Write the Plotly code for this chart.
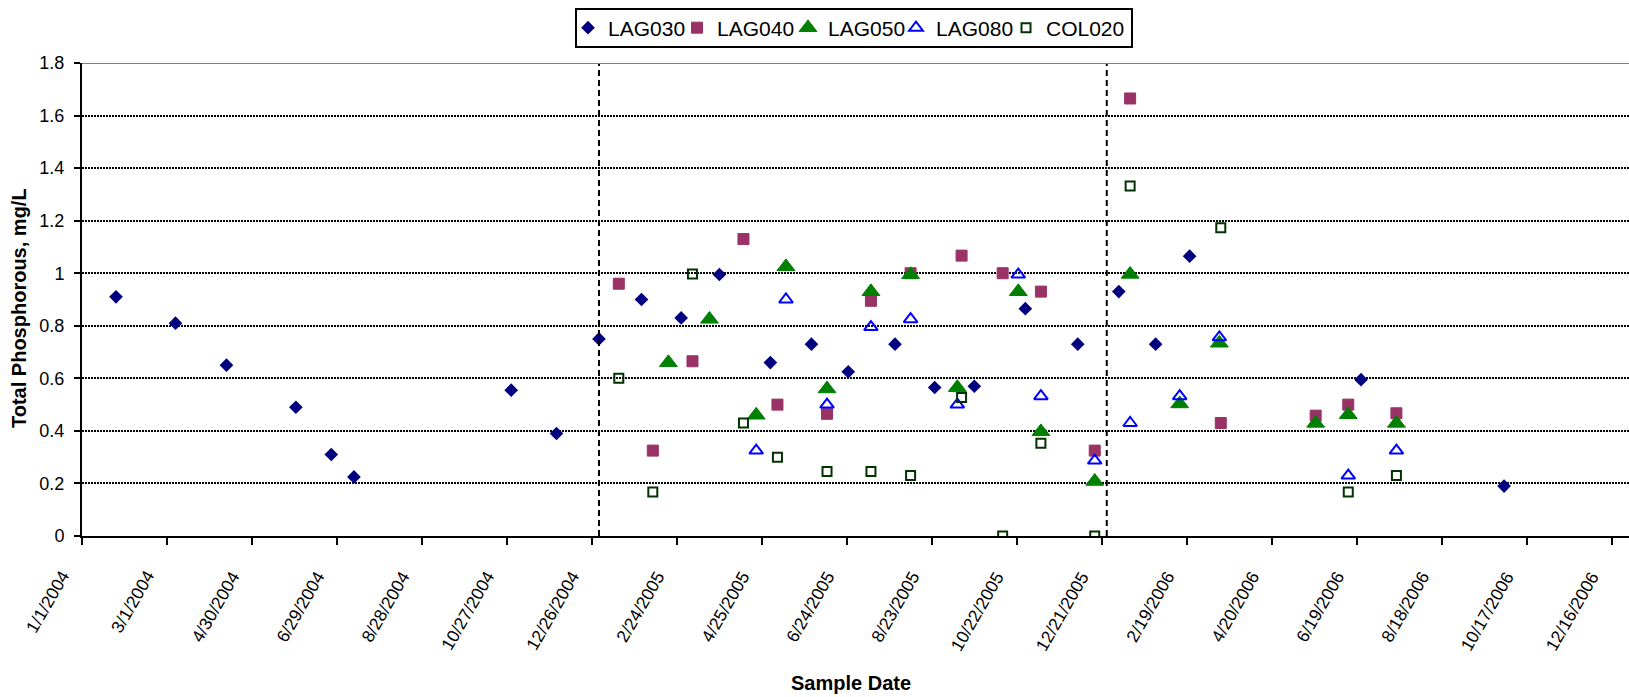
import plotly.graph_objects as go
import pandas as pd

# ---------------- data ----------------
lag030_dates = ["2004-01-25", "2004-03-07", "2004-04-12", "2004-05-31", "2004-06-25",
                "2004-07-11", "2004-10-30", "2004-12-01", "2004-12-31", "2005-01-30",
                "2005-02-27", "2005-03-26", "2005-05-01", "2005-05-30", "2005-06-25",
                "2005-07-28", "2005-08-25", "2005-09-22", "2005-10-28", "2005-12-04",
                "2006-01-02", "2006-01-28", "2006-02-21", "2006-06-22", "2006-10-01"]
lag030_vals = [0.91, 0.81, 0.65, 0.49, 0.31, 0.225, 0.555, 0.39, 0.75, 0.90,
               0.83, 0.995, 0.66, 0.73, 0.625, 0.73, 0.565, 0.57, 0.865, 0.73,
               0.93, 0.73, 1.065, 0.595, 0.19]

lag040_dates = ["2005-01-14", "2005-02-07", "2005-03-07", "2005-04-12", "2005-05-06",
                "2005-06-10", "2005-07-11", "2005-08-08", "2005-09-13", "2005-10-12",
                "2005-11-08", "2005-12-16", "2006-01-10", "2006-03-15", "2006-05-21",
                "2006-06-13", "2006-07-17"]
lag040_vals = [0.96, 0.325, 0.665, 1.13, 0.50, 0.465, 0.895, 1.0, 1.067, 1.0,
               0.93, 0.325, 1.665, 0.43, 0.458, 0.50, 0.467]

lag050_dates = ["2005-02-18", "2005-03-19", "2005-04-21", "2005-05-12", "2005-06-10",
                "2005-07-11", "2005-08-08", "2005-09-10", "2005-10-23", "2005-11-08",
                "2005-12-16", "2006-01-10", "2006-02-14", "2006-03-14", "2006-05-21",
                "2006-06-13", "2006-07-17"]
lag050_vals = [0.66, 0.825, 0.46, 1.025, 0.56, 0.93, 0.995, 0.565, 0.93, 0.397,
               0.208, 0.996, 0.503, 0.734, 0.429, 0.462, 0.429]

lag080_dates = ["2005-04-21", "2005-05-12", "2005-06-10", "2005-07-11", "2005-08-08",
                "2005-09-10", "2005-10-23", "2005-11-08", "2005-12-16", "2006-01-10",
                "2006-02-14", "2006-03-14", "2006-06-13", "2006-07-17"]
lag080_vals = [0.325, 0.90, 0.50, 0.795, 0.825, 0.50, 0.995, 0.532, 0.287, 0.43,
               0.532, 0.756, 0.23, 0.325]

col020_dates = ["2005-01-14", "2005-02-07", "2005-03-07", "2005-04-12", "2005-05-06",
                "2005-06-10", "2005-07-11", "2005-08-08", "2005-09-13", "2005-10-12",
                "2005-11-08", "2005-12-16", "2006-01-10", "2006-03-15", "2006-06-13",
                "2006-07-17"]
col020_vals = [0.60, 0.167, 0.997, 0.43, 0.30, 0.245, 0.245, 0.23, 0.527, 0.0,
               0.353, 0.0, 1.332, 1.173, 0.167, 0.23]

x_tick_labels = ["1/1/2004", "3/1/2004", "4/30/2004", "6/29/2004", "8/28/2004",
                 "10/27/2004", "12/26/2004", "2/24/2005", "4/25/2005", "6/24/2005",
                 "8/23/2005", "10/22/2005", "12/21/2005", "2/19/2006", "4/20/2006",
                 "6/19/2006", "8/18/2006", "10/17/2006", "12/16/2006"]
y_tick_vals = [0, 0.2, 0.4, 0.6, 0.8, 1.0, 1.2, 1.4, 1.6, 1.8]
y_tick_text = ["0", "0.2", "0.4", "0.6", "0.8", "1", "1.2", "1.4", "1.6", "1.8"]

divider_dates = ["2004-12-31", "2005-12-24 12:00"]
x_range = ["2004-01-01", "2006-12-28 05:00"]

FONT = "Arial, Liberation Sans, sans-serif"

# layout geometry (pixels)
W, H = 1629, 697
L, R, T, B = 82, 0, 63, 161
PW, PH = W - L - R, H - T - B


def px_x(px):
    return (px - L) / PW


def px_y(py):
    return (H - B - py) / PH


x_tick_vals = [pd.to_datetime(t, format="%m/%d/%Y").strftime("%Y-%m-%d") for t in x_tick_labels]

series = [
    ("LAG030", lag030_dates, lag030_vals,
     dict(symbol="diamond", size=10.5, color="#000080", line=dict(width=0))),
    ("LAG040", lag040_dates, lag040_vals,
     dict(symbol="square", size=11, color="#993366", line=dict(width=1, color="#993366"))),
    ("LAG050", lag050_dates, lag050_vals,
     dict(symbol="triangle-up", size=15.5, color="#008000", line=dict(width=1, color="#008000"))),
    ("LAG080", lag080_dates, lag080_vals,
     dict(symbol="triangle-up-open", size=12, color="#0000FF", line=dict(width=2, color="#0000FF"))),
    ("COL020", col020_dates, col020_vals,
     dict(symbol="square-open", size=9, color="#003300", line=dict(width=2, color="#003300"))),
]
# legend swatch centres (px) for the single legend row
legend_marker_px = [590, 699, 810, 918, 1028]

fig = go.Figure()
legend_layouts = {}
for i, (name, xs, ys, mk) in enumerate(series):
    key = "legend" if i == 0 else f"legend{i + 1}"
    fig.add_trace(go.Scatter(x=xs, y=ys, mode="markers", name=name, marker=mk,
                             legend=key))
    legend_layouts[key] = dict(
        orientation="h", x=px_x(legend_marker_px[i] - 22), xanchor="left",
        y=px_y(7.5), yanchor="top", bgcolor="rgba(0,0,0,0)", borderwidth=0,
        font=dict(size=21, family=FONT, color="black"), itemwidth=30)

shapes = [dict(type="rect", xref="paper", yref="paper",
               x0=px_x(576), x1=px_x(1132), y0=px_y(47), y1=px_y(9),
               line=dict(color="black", width=2), fillcolor="white", layer="below")]
for d in divider_dates:
    shapes.append(dict(type="line", xref="x", yref="y", x0=d, x1=d, y0=0, y1=1.8,
                       line=dict(color="black", width=2, dash="6px,4px"), layer="above"))
shapes.append(dict(type="line", xref="paper", yref="y", x0=0, x1=1, y0=1.8, y1=1.8,
                   line=dict(color="#808080", width=2), layer="above"))

annotations = [
    dict(text="<b>Total Phosphorous, mg/L</b>", xref="paper", yref="paper",
         x=px_x(18.5), y=px_y(308.5), textangle=-90,
         showarrow=False, xanchor="center", yanchor="middle",
         font=dict(size=20, family=FONT, color="black")),
    dict(text="<b>Sample Date</b>", xref="paper", yref="paper",
         x=px_x(851), y=px_y(683),
         showarrow=False, xanchor="center", yanchor="middle",
         font=dict(size=20, family=FONT, color="black")),
]
for tv, tl in zip(x_tick_vals, x_tick_labels):
    annotations.append(dict(text=tl, xref="x", yref="y", x=tv, y=0,
                            showarrow=False, xanchor="right", yanchor="top",
                            textangle=-60, xshift=-6, yshift=-29,
                            font=dict(size=17.5, family=FONT, color="black")))

fig.update_layout(
    width=W, height=H,
    margin=dict(l=L, r=R, t=T, b=B, pad=0),
    paper_bgcolor="white", plot_bgcolor="white",
    font=dict(family=FONT, color="black", size=18),
    showlegend=True,
    shapes=shapes,
    annotations=annotations,
    **legend_layouts,
)

fig.update_xaxes(type="date", range=x_range, tickmode="array", tickvals=x_tick_vals,
                 showticklabels=False, ticks="outside", ticklen=7,
                 tickwidth=2, tickcolor="black", showline=True, linecolor="black",
                 linewidth=2, showgrid=False, zeroline=False)
fig.update_yaxes(range=[0, 1.8], tickmode="array", tickvals=y_tick_vals,
                 ticktext=y_tick_text, ticks="outside", ticklen=6, tickwidth=2,
                 tickcolor="black", showline=True, linecolor="black", linewidth=2,
                 showgrid=True, gridcolor="black", gridwidth=1.5, griddash="2px,1px",
                 zeroline=False, ticklabelstandoff=6,
                 tickfont=dict(size=18, family=FONT, color="black"))

fig.write_html("out.html")
